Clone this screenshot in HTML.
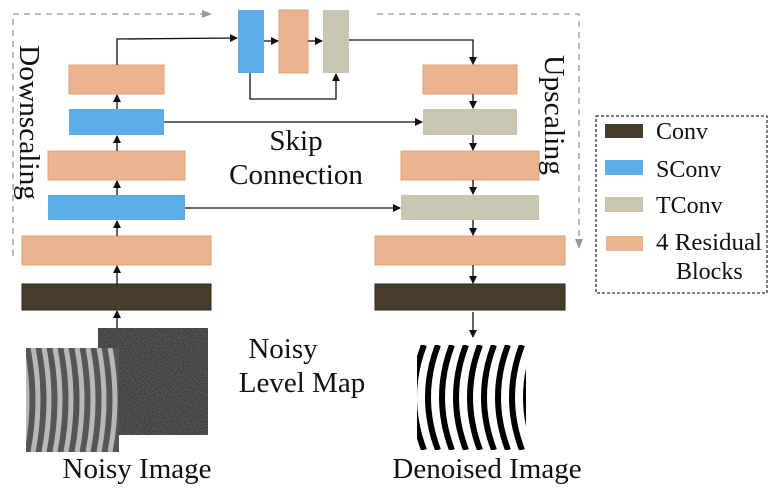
<!DOCTYPE html>
<html><head><style>
body{margin:0;background:#fff;}
svg text{font-family:"Liberation Serif",serif;fill:#111;}
</style></head><body>
<svg width="776" height="491" viewBox="0 0 776 491" xmlns="http://www.w3.org/2000/svg">
<defs>
<marker id="a" markerWidth="8" markerHeight="8" refX="7" refY="4" orient="auto" markerUnits="userSpaceOnUse"><path d="M0,0 L8,4 L0,8 z" fill="#111"/></marker>
<marker id="g" markerWidth="10" markerHeight="10" refX="9" refY="5" orient="auto" markerUnits="userSpaceOnUse"><path d="M0,1 L10,5 L0,9 z" fill="#999"/></marker>
<filter id="nz" x="0" y="0" width="1" height="1"><feTurbulence type="fractalNoise" baseFrequency="0.9" numOctaves="2" seed="3"/><feColorMatrix type="matrix" values="0 0 0 0 0.2  0 0 0 0 0.2  0 0 0 0 0.2  0 0 0 1.6 -0.5"/></filter>
<clipPath id="c0"><rect x="98" y="328" width="110" height="107"/></clipPath>
<clipPath id="c1"><rect x="26" y="348" width="93" height="104"/></clipPath>
<clipPath id="c2"><rect x="417" y="345" width="109" height="105"/></clipPath>
</defs>
<g stroke="#999" stroke-width="1.3" stroke-dasharray="6,5" fill="none">
<path d="M13,256 L13,14 L211,14" marker-end="url(#g)"/>
<path d="M377,14 L579,14 L579,248" marker-end="url(#g)"/>
</g>
<g stroke="#e0a07a" stroke-width="1">
<rect x="69" y="65" width="95" height="29" fill="#ebb48e"/>
<rect x="48" y="151" width="137" height="29" fill="#ebb48e"/>
<rect x="22" y="236" width="189" height="29" fill="#ebb48e"/>
<rect x="423" y="65" width="94" height="29" fill="#ebb48e"/>
<rect x="401" y="151" width="138" height="29" fill="#ebb48e"/>
<rect x="375" y="236" width="190" height="29" fill="#ebb48e"/>
<rect x="279" y="10" width="29" height="63" fill="#ebb48e"/>
</g>
<g fill="#5eace8">
<rect x="69" y="109" width="95" height="26"/>
<rect x="48" y="195" width="137" height="25"/>
<rect x="238" y="10" width="26" height="63"/>
</g>
<g fill="#c8c5b3">
<rect x="423" y="109" width="94" height="26"/>
<rect x="401" y="195" width="138" height="25"/>
<rect x="323" y="10" width="26" height="63"/>
</g>
<g fill="#483c2c" stroke="#2a2418">
<rect x="22" y="284" width="189" height="26"/>
<rect x="375" y="284" width="190" height="26"/>
</g>
<g stroke="#111" stroke-width="1.3" fill="none" marker-end="url(#a)">
<path d="M117,329 L117,311"/>
<path d="M117,284 L117,266"/>
<path d="M117,236 L117,221"/>
<path d="M117,195 L117,181"/>
<path d="M117,151 L117,136"/>
<path d="M117,109 L117,95"/>
<path d="M117,65 L117,39 L237,38"/>
<path d="M264,41 L278,41"/>
<path d="M308,41 L322,41"/>
<path d="M250,73 L250,99 L336,99 L336,74"/>
<path d="M349,40 L473,40 L473,64"/>
<path d="M164,122 L422,122"/>
<path d="M185,208 L400,208"/>
<path d="M473,94 L473,108"/>
<path d="M473,135 L473,150"/>
<path d="M473,180 L473,194"/>
<path d="M473,220 L473,235"/>
<path d="M473,265 L473,283"/>
<path d="M473,312 L473,337"/>
</g>
<g clip-path="url(#c0)">
<rect x="98" y="328" width="110" height="107" fill="#3a3a3a"/>
<rect x="98" y="328" width="110" height="107" filter="url(#nz)" opacity="0.8"/>
</g>
<g clip-path="url(#c1)">
<rect x="26" y="348" width="93" height="104" fill="#555"/>
<g stroke="#b8b8b8" stroke-width="5" fill="none">
<path d="M22,348 Q32,400 22,452"/><path d="M33,348 Q43,400 33,452"/><path d="M44,348 Q54,400 44,452"/><path d="M55,348 Q65,400 55,452"/><path d="M66,348 Q76,400 66,452"/><path d="M77,348 Q87,400 77,452"/><path d="M88,348 Q98,400 88,452"/><path d="M99,348 Q109,400 99,452"/><path d="M110,348 Q120,400 110,452"/>
</g>
</g>
<g clip-path="url(#c2)">
<rect x="417" y="345" width="109" height="105" fill="#fff"/>
<g stroke="#000" stroke-width="6" fill="none">
<path d="M424,345 Q404,397 424,450"/><path d="M438,345 Q418,397 438,450"/><path d="M452,345 Q432,397 452,450"/><path d="M466,345 Q446,397 466,450"/><path d="M480,345 Q460,397 480,450"/><path d="M494,345 Q474,397 494,450"/><path d="M508,345 Q488,397 508,450"/><path d="M522,345 Q502,397 522,450"/><path d="M536,345 Q516,397 536,450"/>
</g>
</g>
<text x="296" y="150" font-size="29" text-anchor="middle">Skip</text>
<text x="296" y="184" font-size="29" text-anchor="middle">Connection</text>
<text x="283" y="358" font-size="29" text-anchor="middle">Noisy</text>
<text x="302" y="392" font-size="29" text-anchor="middle">Level Map</text>
<text x="137" y="478" font-size="29" text-anchor="middle">Noisy Image</text>
<text x="487" y="478" font-size="29" text-anchor="middle">Denoised Image</text>
<text transform="translate(20,45) rotate(90)" font-size="29" textLength="155" lengthAdjust="spacingAndGlyphs">Downscaling</text>
<text transform="translate(545,55) rotate(90)" font-size="29" textLength="120" lengthAdjust="spacingAndGlyphs">Upscaling</text>
<rect x="596" y="116" width="171" height="177" fill="none" stroke="#333" stroke-width="1.3" stroke-dasharray="3,2"/>
<rect x="605" y="124" width="38" height="14" fill="#483c2c"/>
<rect x="605" y="160" width="38" height="15" fill="#5eace8"/>
<rect x="605" y="197" width="38" height="15" fill="#c8c5b3"/>
<rect x="606" y="236" width="37" height="15" fill="#ebb48e"/>
<text x="656" y="139" font-size="24">Conv</text>
<text x="656" y="177" font-size="24">SConv</text>
<text x="656" y="213" font-size="24">TConv</text>
<text x="656" y="250" font-size="24" textLength="106" lengthAdjust="spacingAndGlyphs">4 Residual</text>
<text x="676" y="279" font-size="24">Blocks</text>
</svg>
</body></html>
